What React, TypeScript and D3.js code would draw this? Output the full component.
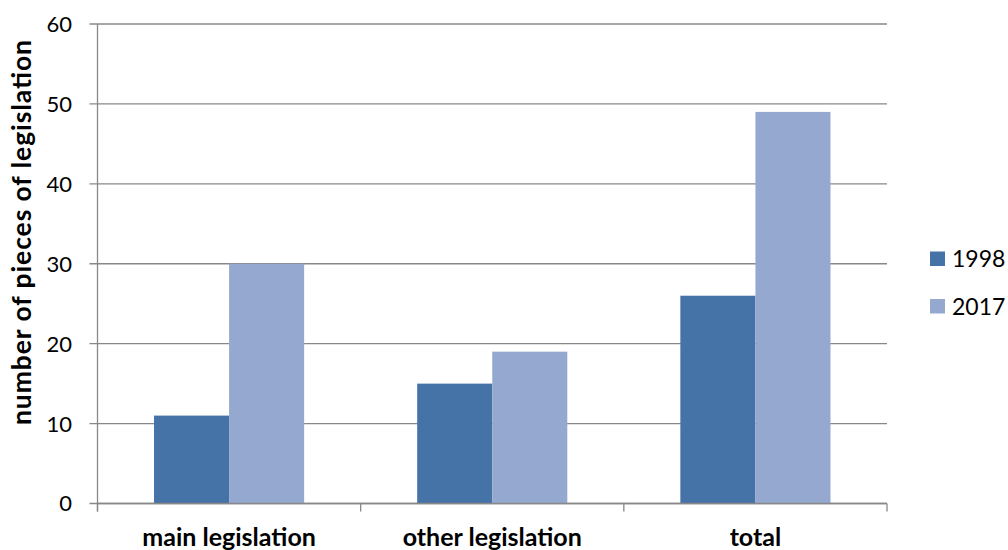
import React from "react";
import * as d3 from "d3";

const categories = ["main legislation", "other legislation", "total"];
const seriesNames = ["1998", "2017"];
const values1998 = [11, 15, 26];
const values2017 = [30, 19, 49];
const yTicks = [0, 10, 20, 30, 40, 50, 60];
const colors = ["#4572A7", "#95A9D0"];

export default function App() {
  const W = 1008, H = 550;
  const left = 97.5, right = 887, top = 24, bottom = 503.5;
  const font = "Lato, 'Open Sans', sans-serif";
  const x = d3.scaleBand<string>().domain(categories).range([left, right]).paddingInner(0).paddingOuter(0);
  const inner = d3.scaleBand<string>().domain(seriesNames).range([0, x.bandwidth()]).paddingInner(0).paddingOuter(0.753);
  const y = d3.scaleLinear().domain([0, 60]).range([bottom, top]);
  const series = [values1998, values2017];
  const bounds = [...categories.map((c) => x(c)!), right];
  return (
    <svg width={W} height={H} style={{ position: "absolute", left: 0, top: 0 }}>
      <rect width={W} height={H} fill="#fff" />
      {yTicks.map((t) => (
        <g key={t}>
          <line x1={left - 8} x2={right} y1={y(t)} y2={y(t)} stroke="#888" strokeWidth={1.3} />
          <text x={72} y={y(t)} dy="0.36em" textAnchor="end" fontFamily={font} fontSize={22}>{t}</text>
        </g>
      ))}
      {series.map((vals, si) =>
        categories.map((c, ci) => (
          <rect key={si + "-" + ci} x={x(c)! + inner(seriesNames[si])!} width={inner.bandwidth()}
            y={y(vals[ci])} height={y(0) - y(vals[ci])} fill={colors[si]} />
        ))
      )}
      <line x1={left} x2={left} y1={top} y2={bottom + 8} stroke="#888" strokeWidth={1.3} />
      <line x1={left} x2={right} y1={bottom} y2={bottom} stroke="#888" strokeWidth={1.3} />
      {bounds.map((b, i) => (
        <line key={i} x1={b} x2={b} y1={bottom} y2={bottom + 8} stroke="#888" strokeWidth={1.3} />
      ))}
      {categories.map((c) => (
        <text key={c} x={x(c)! + x.bandwidth() / 2} y={546} textAnchor="middle" fontFamily={font} fontWeight="bold" fontSize={25}>{c}</text>
      ))}
      <text transform={`translate(31,232.5) rotate(-90)`} textAnchor="middle" fontFamily={font} fontWeight="bold" fontSize={26.5}
        textLength={385} lengthAdjust="spacing">
        number of pieces of legislation
      </text>
      {seriesNames.map((s, i) => (
        <g key={s}>
          <rect x={930} y={251.5 + i * 47.5} width={15} height={14.5} fill={colors[i]} />
          <text x={952} y={259 + i * 47.5} dy="0.36em" fontFamily={font} fontSize={23}>{s}</text>
        </g>
      ))}
    </svg>
  );
}
